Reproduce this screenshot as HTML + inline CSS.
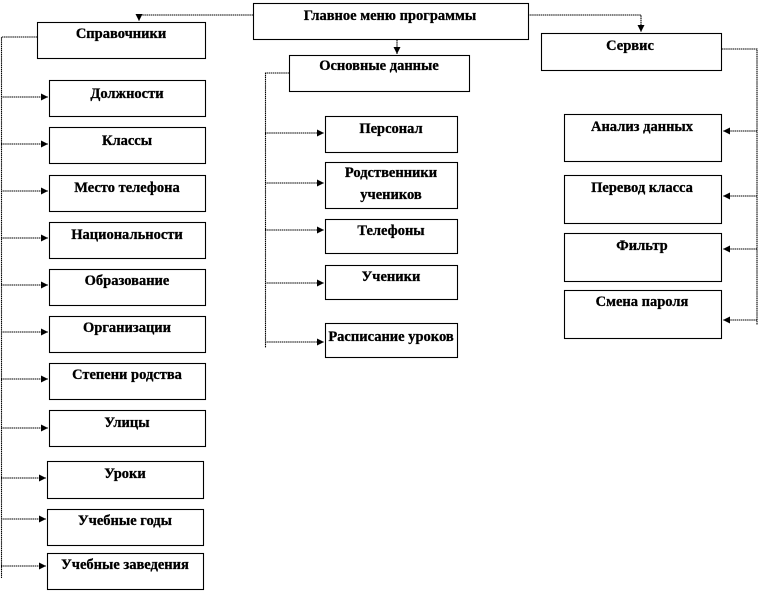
<!DOCTYPE html>
<html><head><meta charset="utf-8"><style>
html,body{margin:0;padding:0;background:#fff;width:758px;height:592px;overflow:hidden}
svg text{font-family:"Liberation Serif","DejaVu Serif",serif;font-weight:bold;font-size:14.5px;fill:#000;text-anchor:middle;stroke:#000;stroke-width:0.3}
</style></head><body>
<svg width="758" height="592" viewBox="0 0 758 592" xmlns="http://www.w3.org/2000/svg">
<defs>
<marker id="a" markerWidth="8" markerHeight="8" refX="7" refY="4" orient="auto" markerUnits="userSpaceOnUse"><path d="M0,0.5 L7,4 L0,7.5 z" fill="#000"/></marker>
</defs>
<g fill="none" stroke="#000" stroke-width="1.1">
<rect x="253.5" y="3.5" width="275" height="36"/>
<rect x="37.5" y="22.5" width="168" height="36"/>
<rect x="289.5" y="55.5" width="180" height="36"/>
<rect x="541.5" y="33.5" width="180" height="37"/>
<rect x="49.5" y="80.5" width="156" height="36"/>
<rect x="49.5" y="127.5" width="156" height="36"/>
<rect x="49.5" y="175.5" width="156" height="36"/>
<rect x="49.5" y="222.5" width="156" height="36"/>
<rect x="49.5" y="269.5" width="156" height="36"/>
<rect x="49.5" y="316.5" width="156" height="36"/>
<rect x="49.5" y="363.5" width="156" height="36"/>
<rect x="49.5" y="410.5" width="156" height="36"/>
<rect x="47.5" y="461.5" width="156" height="37"/>
<rect x="47.5" y="509.5" width="156" height="36"/>
<rect x="47.5" y="553.5" width="156" height="36"/>
<rect x="325.5" y="116.5" width="132" height="36"/>
<rect x="325.5" y="162.5" width="132" height="46"/>
<rect x="325.5" y="219.5" width="132" height="34"/>
<rect x="325.5" y="265.5" width="132" height="34"/>
<rect x="325.5" y="323.5" width="132" height="34"/>
<rect x="564.5" y="114.5" width="157" height="47"/>
<rect x="564.5" y="175.5" width="157" height="48"/>
<rect x="564.5" y="233.5" width="157" height="48"/>
<rect x="564.5" y="290.5" width="157" height="48"/>
</g>
<g fill="none" stroke="#000" stroke-width="1.1" stroke-dasharray="1.5 0.6">
<polyline points="253,15 139,15 139,21" marker-end="url(#a)"/>
<polyline points="528,15 641,15 641,32" marker-end="url(#a)"/>
<line x1="397" y1="40" x2="397" y2="54" marker-end="url(#a)"/>
<polyline points="37,37 1.5,37 1.5,578"/>
<line x1="1" y1="97" x2="48" y2="97" marker-end="url(#a)"/>
<line x1="1" y1="144" x2="48" y2="144" marker-end="url(#a)"/>
<line x1="1" y1="191" x2="48" y2="191" marker-end="url(#a)"/>
<line x1="1" y1="238" x2="48" y2="238" marker-end="url(#a)"/>
<line x1="1" y1="285" x2="48" y2="285" marker-end="url(#a)"/>
<line x1="1" y1="332" x2="48" y2="332" marker-end="url(#a)"/>
<line x1="1" y1="379" x2="48" y2="379" marker-end="url(#a)"/>
<line x1="1" y1="428" x2="48" y2="428" marker-end="url(#a)"/>
<line x1="1" y1="478" x2="46" y2="478" marker-end="url(#a)"/>
<line x1="1" y1="519" x2="46" y2="519" marker-end="url(#a)"/>
<line x1="1" y1="566" x2="46" y2="566" marker-end="url(#a)"/>
<polyline points="289,73 265.5,73 265.5,348"/>
<line x1="265" y1="133" x2="324" y2="133" marker-end="url(#a)"/>
<line x1="265" y1="183" x2="324" y2="183" marker-end="url(#a)"/>
<line x1="265" y1="230" x2="324" y2="230" marker-end="url(#a)"/>
<line x1="265" y1="283" x2="324" y2="283" marker-end="url(#a)"/>
<line x1="265" y1="342" x2="324" y2="342" marker-end="url(#a)"/>
<polyline points="722,49 757,49 757,325"/>
<line x1="757" y1="131" x2="723" y2="131" marker-end="url(#a)"/>
<line x1="757" y1="196" x2="723" y2="196" marker-end="url(#a)"/>
<line x1="757" y1="249" x2="723" y2="249" marker-end="url(#a)"/>
<line x1="757" y1="320" x2="723" y2="320" marker-end="url(#a)"/>
</g>
<g>
<text x="390" y="20">Главное меню программы</text>
<text x="121" y="38">Справочники</text>
<text x="379" y="70">Основные данные</text>
<text x="630" y="50">Сервис</text>
<text x="127" y="98">Должности</text>
<text x="127" y="145">Классы</text>
<text x="127" y="192">Место телефона</text>
<text x="127" y="239">Национальности</text>
<text x="127" y="285">Образование</text>
<text x="127" y="332">Организации</text>
<text x="127" y="379">Степени родства</text>
<text x="127" y="427">Улицы</text>
<text x="125" y="478">Уроки</text>
<text x="125" y="525">Учебные годы</text>
<text x="125" y="569">Учебные заведения</text>
<text x="391" y="133">Персонал</text>
<text x="391" y="177">Родственники</text>
<text x="391" y="199">учеников</text>
<text x="391" y="235">Телефоны</text>
<text x="391" y="281">Ученики</text>
<text x="391" y="341">Расписание уроков</text>
<text x="642" y="131">Анализ данных</text>
<text x="642" y="192">Перевод класса</text>
<text x="642" y="250">Фильтр</text>
<text x="642" y="306">Смена пароля</text>
</g>
</svg>
</body></html>
